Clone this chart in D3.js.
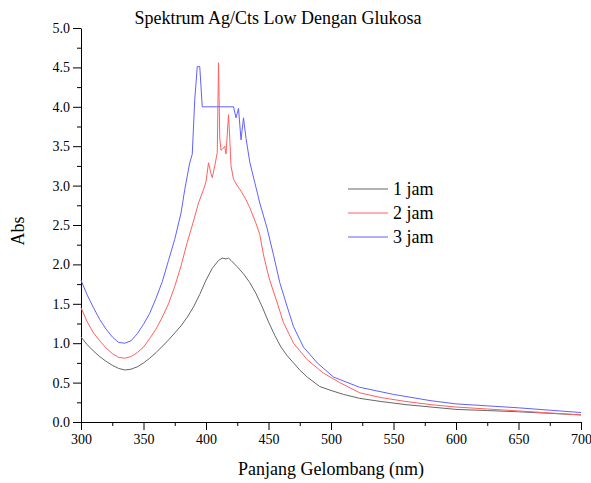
<!DOCTYPE html>
<html>
<head>
<meta charset="utf-8">
<script src="https://cdn.jsdelivr.net/npm/d3@7"></script>
<style>
  body { margin: 0; background: #fff; }
  svg { display: block; }
  text { font-family: "Liberation Serif", "Times New Roman", serif; fill: #000; }
</style>
</head>
<body>
<script>
// ---- data ----
const seriesNames = ["1 jam", "2 jam", "3 jam"];
const seriesColors = ["#666666", "#ff6060", "#6060ff"];

const wl1 = [300,305,310,315,320,325,330,335,340,345,350,355,360,365,370,375,380,385,390,395,400,405,410,413,416,418,420,425,430,435,440,445,450,455,460,465,470,475,481,491,500,510,523,540,560,580,600,625,650,675,700];
const abs1 = [1.08,0.98,0.90,0.83,0.77,0.72,0.68,0.66,0.67,0.70,0.75,0.81,0.88,0.96,1.04,1.13,1.22,1.33,1.46,1.62,1.80,1.95,2.05,2.08,2.07,2.08,2.05,1.97,1.88,1.77,1.63,1.46,1.27,1.10,0.95,0.84,0.75,0.66,0.57,0.45,0.40,0.35,0.30,0.26,0.22,0.19,0.16,0.145,0.13,0.11,0.09];

const wl2 = [300,305,310,315,320,325,330,335,340,345,350,355,360,365,370,375,380,385,390,394,398,400,402,404,405,407,409,410,411,412,413,415,416,418,419,420,422,425,428,432,435,440,443,446,449,451,457,462,470,481,494,507,523,540,560,580,600,625,650,675,700];
const abs2 = [1.45,1.27,1.13,1.03,0.94,0.87,0.82,0.81,0.83,0.88,0.95,1.06,1.18,1.33,1.50,1.72,1.98,2.28,2.55,2.78,2.95,3.05,3.29,3.15,3.10,3.25,3.42,4.56,3.60,3.45,3.46,3.50,3.40,3.90,3.60,3.25,3.08,3.00,2.93,2.82,2.72,2.52,2.38,2.12,1.92,1.80,1.51,1.26,1.00,0.79,0.62,0.50,0.37,0.31,0.26,0.22,0.19,0.165,0.14,0.115,0.09];

const wl3 = [300,305,310,315,320,325,330,335,340,345,350,355,360,365,370,375,380,383,387,389,391,393,395,397,422,424,426,428,430,432,435,439,443,449,454,459,465,470,478,489,502,523,550,580,600,625,650,675,700];
const abs3 = [1.80,1.61,1.45,1.30,1.18,1.08,1.01,1.00,1.03,1.12,1.24,1.38,1.57,1.78,2.05,2.32,2.65,2.95,3.29,3.40,4.09,4.51,4.51,4.00,4.00,3.86,3.98,3.58,3.86,3.60,3.30,3.04,2.78,2.45,2.12,1.77,1.46,1.21,0.95,0.75,0.57,0.44,0.35,0.27,0.23,0.205,0.18,0.15,0.12];

const xTicks = [300,350,400,450,500,550,600,650,700];
const yTicks = [0.0,0.5,1.0,1.5,2.0,2.5,3.0,3.5,4.0,4.5,5.0];

const titleText = "Spektrum Ag/Cts Low Dengan Glukosa";
const xTitle = "Panjang Gelombang (nm)";
const yTitle = "Abs";

// ---- layout ----
const W = 591, H = 483;
const m = { left: 81, right: 10, top: 28, bottom: 61 };

const svg = d3.select("body").append("svg").attr("width", W).attr("height", H);

const x = d3.scaleLinear().domain([300, 700]).range([m.left, W - m.right]);
const y = d3.scaleLinear().domain([0, 5]).range([H - m.bottom, m.top]);

// minor ticks
const xMinor = d3.range(300, 701, 25).filter(v => v % 50 !== 0);
const yMinor = d3.range(0.25, 5, 0.5);

const gx = svg.append("g").attr("transform", `translate(0,${H - m.bottom})`);
gx.call(d3.axisBottom(x).tickValues(xTicks).tickFormat(d3.format("d")).tickSizeInner(8).tickSizeOuter(0).tickPadding(4));
gx.append("g").call(d3.axisBottom(x).tickValues(xMinor).tickFormat("").tickSizeInner(4).tickSizeOuter(0))
  .select(".domain").remove();

const gy = svg.append("g").attr("transform", `translate(${m.left},0)`);
gy.call(d3.axisLeft(y).tickValues(yTicks).tickFormat(d3.format(".1f")).tickSizeInner(8).tickSizeOuter(0).tickPadding(3));
gy.append("g").call(d3.axisLeft(y).tickValues(yMinor).tickFormat("").tickSizeInner(4).tickSizeOuter(0))
  .select(".domain").remove();

svg.selectAll(".tick text").style("font-family", '"Liberation Serif", serif').style("font-size", "14px").attr("fill", "#000");
svg.selectAll(".domain, .tick line").attr("stroke", "#000").attr("stroke-width", 1);

// lines
const seriesData = [
  wl1.map((w, i) => [w, abs1[i]]),
  wl2.map((w, i) => [w, abs2[i]]),
  wl3.map((w, i) => [w, abs3[i]])
];
const line = d3.line().x(d => x(d[0])).y(d => y(d[1]));
seriesData.forEach((d, i) => {
  svg.append("path").datum(d).attr("d", line).attr("fill", "none")
    .attr("stroke", seriesColors[i]).attr("stroke-width", 1);
});

// legend
const legY = [189, 213, 237];
seriesNames.forEach((n, i) => {
  svg.append("line").attr("x1", 348).attr("x2", 388).attr("y1", legY[i]).attr("y2", legY[i])
    .attr("stroke", seriesColors[i]).attr("stroke-width", 1);
  svg.append("text").attr("x", 393).attr("y", legY[i] + 6).style("font-size", "18px").text(n);
});

// titles
svg.append("text").attr("x", 278).attr("y", 24).attr("text-anchor", "middle").style("font-size", "18px").text(titleText);
svg.append("text").attr("x", 331).attr("y", 475).attr("text-anchor", "middle").style("font-size", "18px").text(xTitle);
svg.append("text").attr("transform", "translate(24,231) rotate(-90)").attr("text-anchor", "middle").style("font-size", "18px").text(yTitle);
</script>
</body>
</html>
